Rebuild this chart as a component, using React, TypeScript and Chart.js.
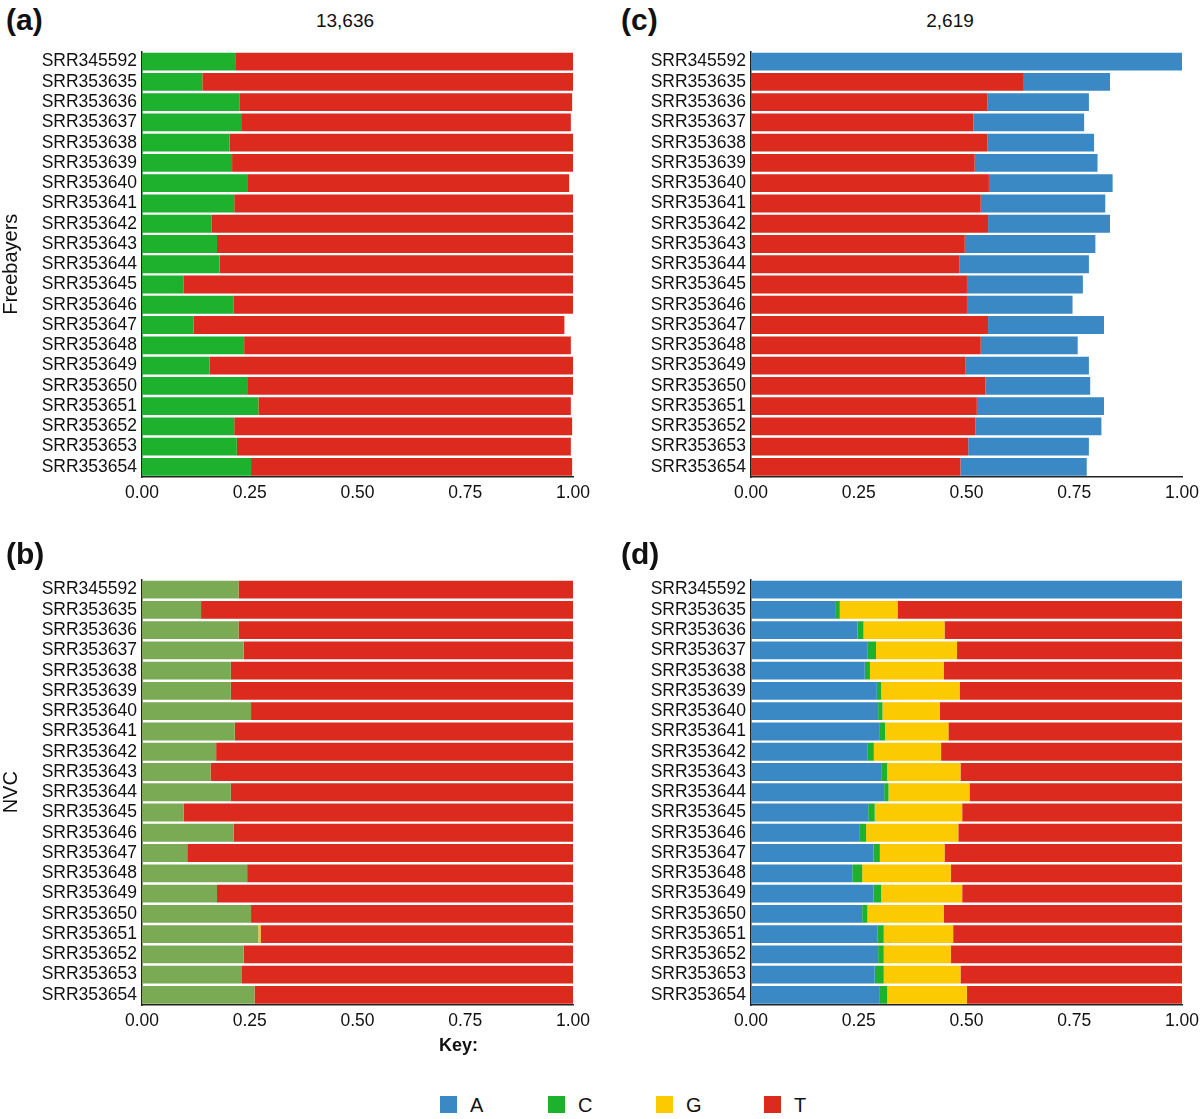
import React, { useEffect, useRef } from 'react';
import { Chart, registerables } from 'chart.js';

Chart.register(...registerables);

const FONT = '"Liberation Sans", Arial, Helvetica, sans-serif';

const samples = [
  'SRR345592', 'SRR353635', 'SRR353636', 'SRR353637', 'SRR353638', 'SRR353639', 'SRR353640',
  'SRR353641', 'SRR353642', 'SRR353643', 'SRR353644', 'SRR353645', 'SRR353646', 'SRR353647',
  'SRR353648', 'SRR353649', 'SRR353650', 'SRR353651', 'SRR353652', 'SRR353653', 'SRR353654',
];

const xTickValues = [0, 0.25, 0.5, 0.75, 1];

// (a) Freebayers, 13,636 sites
const fbC = [0.218, 0.140, 0.227, 0.230, 0.203, 0.209, 0.244, 0.214, 0.162, 0.174, 0.180, 0.097, 0.213, 0.120, 0.237, 0.157, 0.244, 0.270, 0.214, 0.220, 0.253];
const fbT = [0.782, 0.860, 0.771, 0.765, 0.797, 0.791, 0.747, 0.786, 0.838, 0.826, 0.820, 0.903, 0.787, 0.860, 0.758, 0.843, 0.756, 0.725, 0.784, 0.775, 0.745];

// (b) NVC, 13,636 sites
const nvcC = [0.224, 0.137, 0.224, 0.236, 0.206, 0.206, 0.253, 0.215, 0.172, 0.159, 0.206, 0.097, 0.213, 0.105, 0.244, 0.174, 0.253, 0.270, 0.236, 0.232, 0.261];
const nvcG = [0, 0, 0, 0, 0, 0, 0, 0, 0, 0, 0, 0, 0, 0, 0, 0, 0, 0.005, 0, 0, 0];
const nvcT = [0.776, 0.863, 0.776, 0.764, 0.794, 0.794, 0.747, 0.785, 0.828, 0.841, 0.794, 0.903, 0.787, 0.895, 0.756, 0.826, 0.747, 0.725, 0.764, 0.768, 0.739];

// (c) Freebayers, 2,619 sites
const fb2T = [0, 0.633, 0.548, 0.516, 0.548, 0.519, 0.552, 0.533, 0.550, 0.496, 0.484, 0.501, 0.501, 0.550, 0.533, 0.498, 0.544, 0.524, 0.521, 0.504, 0.486];
const fb2A = [1.000, 0.200, 0.236, 0.257, 0.248, 0.285, 0.287, 0.289, 0.283, 0.303, 0.300, 0.269, 0.245, 0.269, 0.225, 0.286, 0.243, 0.295, 0.292, 0.280, 0.293];

// (d) NVC, 2,619 sites
const nvc2A = [1.000, 0.197, 0.247, 0.271, 0.264, 0.292, 0.295, 0.299, 0.271, 0.302, 0.309, 0.272, 0.251, 0.284, 0.235, 0.284, 0.258, 0.293, 0.295, 0.287, 0.299];
const nvc2C = [0, 0.009, 0.014, 0.019, 0.012, 0.010, 0.010, 0.012, 0.014, 0.014, 0.010, 0.015, 0.016, 0.015, 0.023, 0.018, 0.012, 0.015, 0.013, 0.021, 0.017];
const nvc2G = [0, 0.134, 0.188, 0.188, 0.171, 0.182, 0.133, 0.147, 0.156, 0.170, 0.188, 0.203, 0.214, 0.150, 0.206, 0.188, 0.177, 0.161, 0.156, 0.178, 0.185];
const nvc2T = [0, 0.660, 0.551, 0.522, 0.553, 0.516, 0.562, 0.542, 0.559, 0.514, 0.493, 0.510, 0.519, 0.551, 0.536, 0.510, 0.553, 0.531, 0.536, 0.514, 0.499];

const COL_A = '#3A89C5';
const COL_C = '#1DB12E';
const COL_G = '#FCCA00';
const COL_T = '#DD2A1E';
const COL_C_NVC = '#7AAA54';

const legendItems = [
  { label: 'A', color: COL_A },
  { label: 'C', color: COL_C },
  { label: 'G', color: COL_G },
  { label: 'T', color: COL_T },
];

type Series = { label: string; data: number[]; color: string };

function StackedPanel(props: {
  left: number; top: number; series: Series[]; yTitle?: string; yWidth: number; padRight: number;
}) {
  const ref = useRef<HTMLCanvasElement>(null);
  const { left, top, series, yTitle, yWidth, padRight } = props;
  useEffect(() => {
    const border = { display: true, color: '#222', width: 1.5 };
    const chart = new Chart(ref.current as HTMLCanvasElement, {
      type: 'bar',
      data: {
        labels: samples,
        datasets: series.map((s) => ({
          label: s.label,
          data: s.data,
          backgroundColor: s.color,
          borderWidth: 0,
          barPercentage: 0.88,
          categoryPercentage: 1,
        })),
      },
      options: {
        indexAxis: 'y',
        responsive: false,
        animation: false,
        devicePixelRatio: 1,
        layout: { padding: { top: 11.5, right: padRight, bottom: 3, left: 0 } },
        plugins: { legend: { display: false }, tooltip: { enabled: false } },
        scales: {
          x: {
            type: 'linear',
            stacked: true,
            min: 0,
            max: 1,
            grid: { display: false, drawTicks: false },
            border,
            ticks: {
              color: '#111',
              padding: 6,
              font: { family: FONT, size: 17.5 },
              callback: (v: any) => Number(v).toFixed(2),
            },
            afterBuildTicks: (s: any) => {
              s.ticks = xTickValues.map((v) => ({ value: v }));
            },
            afterFit: (s: any) => {
              s.height = 30;
              s.paddingLeft = 0; s.paddingRight = 0; s.paddingTop = 0; s.paddingBottom = 0;
            },
          },
          y: {
            type: 'category',
            stacked: true,
            grid: { display: false, drawTicks: false },
            border,
            ticks: {
              color: '#111',
              padding: 5,
              autoSkip: false,
              font: { family: FONT, size: 17.5 },
            },
            title: {
              display: !!yTitle,
              text: yTitle || '',
              color: '#111',
              padding: { top: -1, bottom: 0 },
              font: { family: FONT, size: 20 },
            },
            afterFit: (s: any) => {
              s.width = yWidth;
              s.paddingLeft = 0; s.paddingRight = 0; s.paddingTop = 0; s.paddingBottom = 0;
            },
          },
        },
      } as any,
    });
    return () => chart.destroy();
  }, []);
  return (
    <canvas
      ref={ref}
      width={600}
      height={470}
      style={{ position: 'absolute', left, top, width: 600, height: 470 }}
    />
  );
}

function Txt(props: { x: number; y: number; size: number; bold?: boolean; center?: boolean; children: React.ReactNode }) {
  const { x, y, size, bold, center, children } = props;
  return (
    <div
      style={{
        position: 'absolute',
        left: x,
        top: y - size / 2,
        height: size,
        lineHeight: `${size}px`,
        fontSize: size,
        fontFamily: FONT,
        fontWeight: bold ? 700 : 400,
        color: '#111',
        whiteSpace: 'nowrap',
        transform: center ? 'translateX(-50%)' : undefined,
      }}
    >
      {children}
    </div>
  );
}

export default function App() {
  return (
    <div style={{ position: 'absolute', left: 0, top: 0, width: 1200, height: 1119, background: '#fff', overflow: 'hidden' }}>
      <StackedPanel
        left={0}
        top={40}
        yWidth={142}
        padRight={27}
        yTitle="Freebayers"
        series={[
          { label: 'C', data: fbC, color: COL_C },
          { label: 'T', data: fbT, color: COL_T },
        ]}
      />
      <StackedPanel
        left={600}
        top={40}
        yWidth={151}
        padRight={18}
        series={[
          { label: 'T', data: fb2T, color: COL_T },
          { label: 'A', data: fb2A, color: COL_A },
        ]}
      />
      <StackedPanel
        left={0}
        top={568}
        yWidth={142}
        padRight={27}
        yTitle="NVC"
        series={[
          { label: 'C', data: nvcC, color: COL_C_NVC },
          { label: 'G', data: nvcG, color: COL_G },
          { label: 'T', data: nvcT, color: COL_T },
        ]}
      />
      <StackedPanel
        left={600}
        top={568}
        yWidth={151}
        padRight={18}
        series={[
          { label: 'A', data: nvc2A, color: COL_A },
          { label: 'C', data: nvc2C, color: COL_C },
          { label: 'G', data: nvc2G, color: COL_G },
          { label: 'T', data: nvc2T, color: COL_T },
        ]}
      />

      <Txt x={6} y={20} size={30} bold>(a)</Txt>
      <Txt x={345} y={20} size={19} center>13,636</Txt>
      <Txt x={621} y={20} size={30} bold>(c)</Txt>
      <Txt x={950} y={20} size={19} center>2,619</Txt>
      <Txt x={6} y={554} size={30} bold>(b)</Txt>
      <Txt x={621} y={554} size={30} bold>(d)</Txt>

      <Txt x={439} y={1045} size={18} bold>Key:</Txt>
      {legendItems.map((it, i) => (
        <React.Fragment key={it.label}>
          <div style={{ position: 'absolute', left: 440 + i * 108, top: 1096, width: 17, height: 17, background: it.color }} />
          <Txt x={470 + i * 108} y={1105} size={20}>{it.label}</Txt>
        </React.Fragment>
      ))}
    </div>
  );
}
